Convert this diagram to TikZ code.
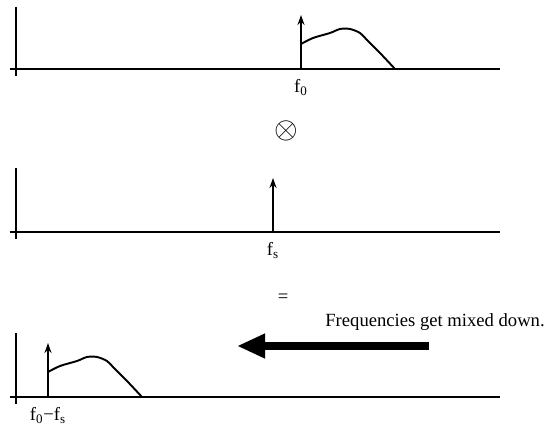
\documentclass[tikz,border=0pt]{standalone}
\usepackage{fontspec}
\setmainfont{Liberation Serif}
\usepackage{tikz}
\usetikzlibrary{positioning, arrows.meta}

\begin{document}
\begin{tikzpicture}[x=0.02cm, y=-0.02cm,
    font=\fontsize{10.6}{12}\selectfont,
    axis/.style={line width=0.8pt},
    spike/.style={-{Stealth[length=2mm, width=1.4mm]}, line width=1.1pt},
    band/.style={line width=1.1pt, line join=round},
    fmark/.style={inner sep=1pt, anchor=north, yshift=-4.5pt},
    bigarrow/.style={-{Triangle[length=5.6mm, width=4.6mm]}, line width=5pt}]
    \useasboundingbox (0,0) rectangle (546,428);
    % --- three spectra: axes (x origin, baseline, top) ---
    \foreach \ax/\ay/\at in {16/69/7, 16/232/168, 16/397/333} {
      \draw[axis] (\ax,\at) -- (\ax,\ay+7);
      \draw[axis] (\ax-6,\ay) -- (500,\ay);
    }
    % --- input signal at f0 ---
    \coordinate (f0) at (301,69);
    \coordinate (f0top) at (301,15);
    \draw[spike] (f0) -- (f0top);
    \draw[band] (301,44) plot[smooth, tension=0.5] coordinates {(301,44) (313,38) (330,33)
      (340,29) (350,29) (360,33) (367,40) (380,53) (395,69)};
    \node[fmark] (l0) at (f0) {f\textsubscript{0}};
    % --- times ---
    \node (mult) at (286,131) {\fontsize{17}{17}\selectfont$\otimes$};
    % --- local oscillator at fs ---
    \coordinate (fs) at (273,232);
    \coordinate (fstop) at (273,178);
    \draw[spike] (fs) -- (fstop);
    \node[fmark] (ls) at (fs) {f\textsubscript{s}};
    % --- equals ---
    \node (eq) at (283,298) {=};
    % --- result at f0-fs ---
    \begin{scope}[shift={(-253,328)}]
      \coordinate (fd) at (301,69);
      \coordinate (fdtop) at (301,15);
      \draw[spike] (fd) -- (fdtop);
      \draw[band] (301,44) plot[smooth, tension=0.5] coordinates {(301,44) (313,38) (330,33)
        (340,29) (350,29) (360,33) (367,40) (380,53) (395,69)};
    \end{scope}
    \node[fmark] (ld) at (fd) {f\textsubscript{0}−f\textsubscript{s}};
    % --- mixing note ---
    \node[anchor=base east, inner sep=0pt] (note) at (545,326) {Frequencies get mixed down.};
    \coordinate (arrR) at (429,346);
    \coordinate (arrL) at (237,346);
    \draw[bigarrow] (arrR) -- (arrL);
\end{tikzpicture}
\end{document}
